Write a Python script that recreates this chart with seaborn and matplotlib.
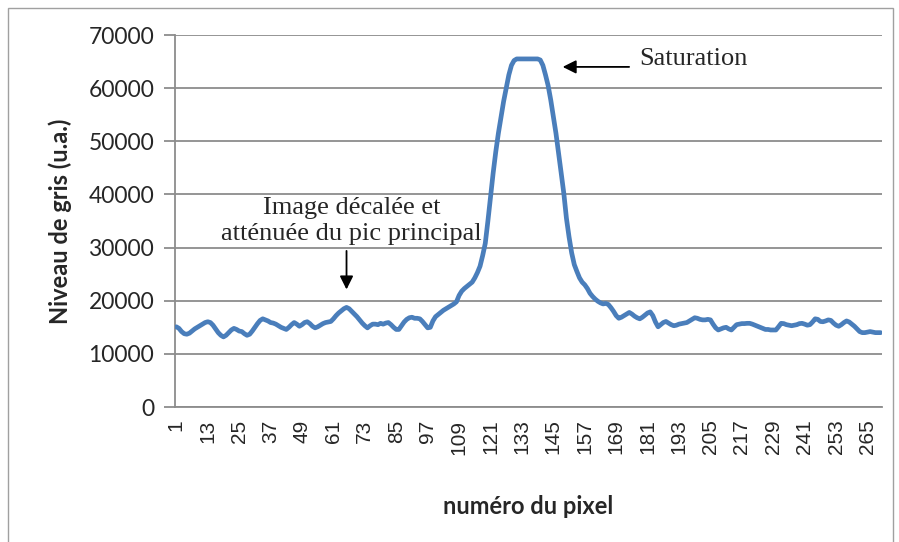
import matplotlib
matplotlib.use("Agg")
import matplotlib.pyplot as plt
from matplotlib.patches import Rectangle
import seaborn as sns
import pandas as pd

# Grey level profile along the detector line (arbitrary units)
pixel_numbers = list(range(1, 271))
grey_levels = [
    15100, 14800, 14200, 13800, 13700, 13900, 14300, 14700, 15000, 15300,
    15600, 15900, 16050, 15900, 15400, 14700, 14000, 13500, 13200, 13500,
    14000, 14500, 14800, 14600, 14300, 14200, 13800, 13500, 13700, 14300,
    15000, 15700, 16300, 16600, 16400, 16200, 15900, 15800, 15600, 15300,
    15000, 14800, 14600, 15000, 15500, 15900, 15600, 15200, 15500, 15900,
    16050, 15700, 15200, 14900, 15100, 15400, 15700, 15900, 16000, 16100,
    16600, 17200, 17700, 18100, 18500, 18750, 18500, 18000, 17500, 17000,
    16400, 15800, 15300, 14900, 15300, 15600, 15600, 15500, 15750, 15600,
    15800, 15900, 15500, 15000, 14600, 14600, 15300, 16000, 16500, 16800,
    16900, 16700, 16700, 16600, 16100, 15500, 14900, 15000, 16200, 17000,
    17400, 17800, 18200, 18500, 18800, 19100, 19400, 19800, 21000, 21800,
    22300, 22700, 23100, 23500, 24300, 25300, 26500, 28500, 30800, 35000,
    39500, 44000, 48000, 51500, 54500, 57500, 60000, 62500, 64300, 65200,
    65500, 65500, 65500, 65500, 65500, 65500, 65500, 65500, 65500, 65300,
    64300, 62500, 60500, 57800, 54600, 51500, 47800, 44000, 40200, 35500,
    32000, 29000, 26800, 25500, 24300, 23500, 23000, 22300, 21400, 20800,
    20300, 19900, 19600, 19400, 19500, 19300, 18700, 18000, 17200, 16700,
    16900, 17200, 17500, 17800, 17500, 17100, 16800, 16600, 16900, 17300,
    17700, 17900, 17200, 16000, 15100, 15500, 15900, 16100, 15800, 15500,
    15300, 15400, 15600, 15700, 15800, 15900, 16200, 16500, 16800, 16700,
    16500, 16400, 16400, 16500, 16400, 15600, 14900, 14500, 14700, 14900,
    15000, 14700, 14500, 15000, 15500, 15600, 15700, 15700, 15750, 15750,
    15600, 15400, 15200, 15000, 14800, 14600, 14600, 14500, 14500, 14500,
    15100, 15750, 15700, 15500, 15400, 15300, 15400, 15500, 15700, 15750,
    15600, 15400, 15500, 16000, 16600, 16500, 16100, 16050, 16200, 16400,
    16300, 15800, 15400, 15200, 15500, 15900, 16200, 16000, 15600, 15200,
    14700, 14200, 14000, 14000, 14100, 14200, 14100, 14000, 14000, 14000,
]
x_tick_labels = list(range(1, 271, 12))
y_ticks = [0, 10000, 20000, 30000, 40000, 50000, 60000, 70000]

df = pd.DataFrame({"pixel": pixel_numbers, "niveau": grey_levels})

sns.set_style("white")
plt.rcParams["font.family"] = ["Lato", "DejaVu Sans"]

fig = plt.figure(figsize=(8.99, 5.42), dpi=100)
ax = fig.add_axes([0.1947, 0.249, 0.7863, 0.6864])

sns.lineplot(data=df, x="pixel", y="niveau", ax=ax, color="#4A7EBB",
             linewidth=3.4, zorder=3)

ax.set_xlim(0.5, 270.5)
ax.set_ylim(0, 70000)
ax.set_yticks(y_ticks)
ax.set_yticklabels([str(v) for v in y_ticks], fontsize=16.5)
ax.set_xticks(x_tick_labels)
ax.set_xticklabels([str(v) for v in x_tick_labels], rotation=90, fontsize=15,
                   family=["Liberation Sans", "DejaVu Sans"])
ax.tick_params(axis="x", length=0, pad=9)
ax.tick_params(axis="y", length=8, width=1.3, color="#8C8C8C", pad=7, left=True)

ax.grid(axis="y", color="#8C8C8C", linewidth=1.3)
ax.set_axisbelow(True)
for side in ("top", "right"):
    ax.spines[side].set_visible(False)
for side in ("left", "bottom"):
    ax.spines[side].set_color("#8C8C8C")
    ax.spines[side].set_linewidth(1.3)

ax.set_xlabel("numéro du pixel", fontsize=17, fontweight="bold", labelpad=29)
ax.set_ylabel("Niveau de gris (u.a.)", fontsize=17, fontweight="bold", labelpad=12)

serif = ["Liberation Serif", "DejaVu Serif"]
ax.annotate("", xy=(147.5, 64000), xytext=(175, 64000),
            arrowprops=dict(arrowstyle="-|>", color="black", lw=1.3,
                            mutation_scale=20))
ax.text(178, 65400, "Saturation", family=serif, fontsize=19,
        ha="left", va="center")

ax.text(68, 35000, "Image décalée et\natténuée du pic principal",
        family=serif, fontsize=19, ha="center", va="center", linespacing=1.2)
ax.annotate("", xy=(66, 21600), xytext=(66, 29900),
            arrowprops=dict(arrowstyle="-|>", color="black", lw=1.3,
                            mutation_scale=20))

# outer chart frame
fig.patches.append(Rectangle((8 / 899, -0.01), 885 / 899, 1 - 8 / 542 + 0.01,
                             transform=fig.transFigure, fill=False,
                             edgecolor="#A0A0A0", linewidth=1.0))

fig.savefig("out.png", dpi=100)
